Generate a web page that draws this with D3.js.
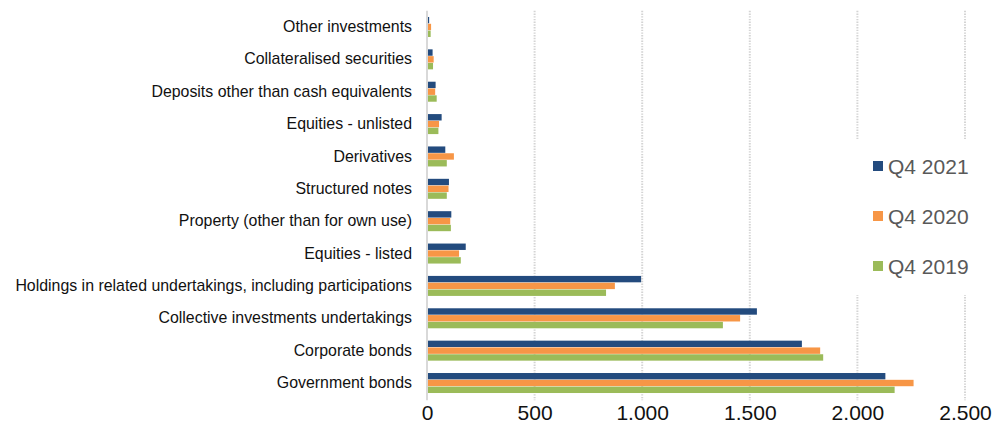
<!DOCTYPE html>
<html>
<head>
<meta charset="utf-8">
<script src="https://cdn.jsdelivr.net/npm/d3@7"></script>
<style>
  html, body { margin: 0; padding: 0; background: #fff; }
  svg { display: block; font-family: "Liberation Sans", Arial, sans-serif; }
</style>
</head>
<body>
<svg id="chart" width="993" height="432"></svg>
<script>
// Investment categories, listed top to bottom
const categories = [
  "Other investments",
  "Collateralised securities",
  "Deposits other than cash equivalents",
  "Equities - unlisted",
  "Derivatives",
  "Structured notes",
  "Property (other than for own use)",
  "Equities - listed",
  "Holdings in related undertakings, including participations",
  "Collective investments undertakings",
  "Corporate bonds",
  "Government bonds"
];

// Series names, in drawing order within each group
const seriesNames = ["Q4 2021", "Q4 2020", "Q4 2019"];

// Values per series, aligned with categories
const q4_2021 = [10, 26, 40, 68, 85, 102, 113, 180, 995, 1533, 1742, 2130];
const q4_2020 = [19, 31, 38, 56, 125, 100, 108, 149, 873, 1455, 1827, 2261];
const q4_2019 = [17, 28, 45, 53, 92, 92, 111, 157, 832, 1375, 1841, 2173];

// Value axis ticks
const xTicks = [0, 500, 1000, 1500, 2000, 2500];

const seriesColors = ["#234b7e", "#f79646", "#9bbb59"];
const seriesValues = [q4_2021, q4_2020, q4_2019];

const svg = d3.select("#chart");

const plot = { left: 427, right: 965, top: 10.8, bottom: 399.2 };

const x = d3.scaleLinear().domain([0, 2500]).range([plot.left, plot.right]);

const y = d3.scaleBand()
  .domain(categories)
  .range([plot.top, plot.bottom])
  .paddingInner(0.382)
  .paddingOuter(0.191);

const ySub = d3.scaleBand()
  .domain(seriesNames)
  .range([0, y.bandwidth()])
  .paddingInner(0.06);

const locale = d3.formatLocale({ decimal: ",", thousands: ".", grouping: [3], currency: ["", ""] });
const fmt = locale.format(",d");

// Dotted vertical gridlines
svg.append("g")
  .selectAll("line")
  .data(xTicks.filter(d => d > 0))
  .join("line")
  .attr("x1", d => x(d)).attr("x2", d => x(d))
  .attr("y1", plot.top).attr("y2", plot.bottom + 1)
  .attr("stroke", "#d4d4d4")
  .attr("stroke-width", 2)
  .attr("stroke-dasharray", "1.4,1.3");

// Bars
const groups = svg.append("g")
  .selectAll("g")
  .data(categories)
  .join("g")
  .attr("transform", d => `translate(0,${y(d)})`);

groups.selectAll("rect")
  .data((c, i) => seriesNames.map((s, j) => ({ s, v: seriesValues[j][i], color: seriesColors[j] })))
  .join("rect")
  .attr("x", x(0))
  .attr("y", d => ySub(d.s))
  .attr("width", d => x(d.v) - x(0))
  .attr("height", ySub.bandwidth())
  .attr("fill", d => d.color);

// Category axis line
svg.append("line")
  .attr("x1", x(0)).attr("x2", x(0))
  .attr("y1", plot.top).attr("y2", plot.bottom + 1)
  .attr("stroke", "#d9d9d9")
  .attr("stroke-width", 2);

// Category labels
const yAxis = svg.append("g")
  .attr("transform", `translate(${x(0)},0)`)
  .call(d3.axisLeft(y).tickSize(0).tickPadding(15));
yAxis.select(".domain").remove();
yAxis.selectAll("text")
  .attr("font-size", 15.9)
  .attr("font-family", "\"Liberation Sans\", Arial, sans-serif")
  .attr("fill", "#111");

// Value labels
const xAxis = svg.append("g")
  .attr("transform", `translate(0,${plot.bottom})`)
  .call(d3.axisBottom(x).tickValues(xTicks).tickFormat(fmt).tickSize(0).tickPadding(6));
xAxis.select(".domain").remove();
xAxis.selectAll("text")
  .attr("font-size", 21)
  .attr("font-family", "\"Liberation Sans\", Arial, sans-serif")
  .attr("fill", "#111");

// Legend with white backing
const legend = svg.append("g");
legend.append("rect")
  .attr("x", 846).attr("y", 140)
  .attr("width", 140).attr("height", 155)
  .attr("fill", "#fff");

const legendItems = legend.selectAll("g.item")
  .data(seriesNames)
  .join("g")
  .attr("class", "item")
  .attr("transform", (d, i) => `translate(873,${166 + i * 50})`);

legendItems.append("rect")
  .attr("x", 0).attr("y", -5)
  .attr("width", 10).attr("height", 10)
  .attr("fill", (d, i) => seriesColors[i]);

legendItems.append("text")
  .attr("x", 15)
  .attr("dy", "0.36em")
  .attr("font-size", 21)
  .attr("fill", "#595959")
  .text(d => d);
</script>
</body>
</html>
